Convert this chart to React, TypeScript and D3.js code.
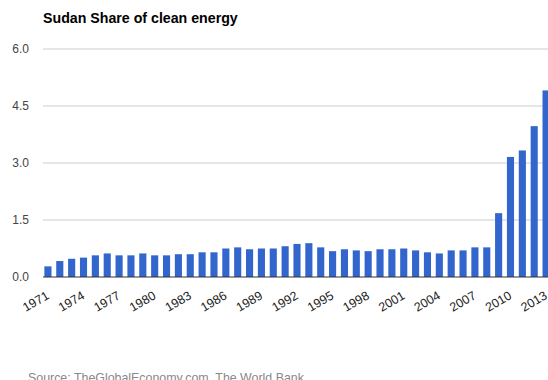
import React from "react";
import * as d3 from "d3";

const years: number[] = d3.range(1971, 2014);
const shares: number[] = [
  0.28, 0.42, 0.48, 0.51, 0.57, 0.62, 0.57, 0.57, 0.62, 0.57,
  0.57, 0.6, 0.6, 0.65, 0.65, 0.75, 0.78, 0.73, 0.75, 0.75,
  0.81, 0.87, 0.89, 0.78, 0.68, 0.73, 0.7, 0.68, 0.73, 0.73,
  0.75, 0.7, 0.65, 0.62, 0.7, 0.7, 0.78, 0.78, 1.68, 3.16,
  3.33, 3.97, 4.91,
];
const yTicks: number[] = [0, 1.5, 3, 4.5, 6];
const labelYears: number[] = [1971, 1974, 1977, 1980, 1983, 1986, 1989, 1992, 1995, 1998, 2001, 2004, 2007, 2010, 2013];

const W = 548;
const H = 380;
const FONT = "Arial, 'Liberation Sans', sans-serif";

export default function App() {
  const x = d3
    .scaleBand<number>()
    .domain(years)
    .range([42, 552])
    .paddingInner(0.4)
    .paddingOuter(0.2);
  const y = d3.scaleLinear().domain([0, 6]).range([277, 49]);

  return (
    <svg
      width={W}
      height={H}
      style={{ position: "absolute", left: 0, top: 0, background: "#fff" }}
      fontFamily={FONT}
    >
      <text x={43} y={23} fontSize={14.2} fontWeight="bold" fill="#000">
        Sudan Share of clean energy
      </text>

      {yTicks.map((t) => (
        <g key={t}>
          {t !== 0 && (
            <line x1={43} x2={W} y1={y(t)} y2={y(t)} stroke="#cccccc" strokeWidth={1} />
          )}
          <text x={29} y={y(t)} dy="0.35em" textAnchor="end" fontSize={12} fill="#444">
            {t.toFixed(1)}
          </text>
        </g>
      ))}

      {years.map((yr, i) => (
        <rect
          key={yr}
          x={x(yr)!}
          y={y(shares[i])}
          width={x.bandwidth()}
          height={y(0) - y(shares[i])}
          fill="#3366cc"
        />
      ))}

      <line x1={43} x2={W} y1={y(0)} y2={y(0)} stroke="#333" strokeWidth={1} />

      {labelYears.map((yr) => {
        const cx = x(yr)! + x.bandwidth() / 2;
        return (
          <text
            key={yr}
            transform={`translate(${cx + 2},${y(0) + 21}) rotate(-30)`}
            textAnchor="end"
            fontSize={12.5}
            fill="#222"
          >
            {yr}
          </text>
        );
      })}

      <text x={28} y={382} fontSize={12.4} fill="#888">
        Source: TheGlobalEconomy.com, The World Bank
      </text>
    </svg>
  );
}
